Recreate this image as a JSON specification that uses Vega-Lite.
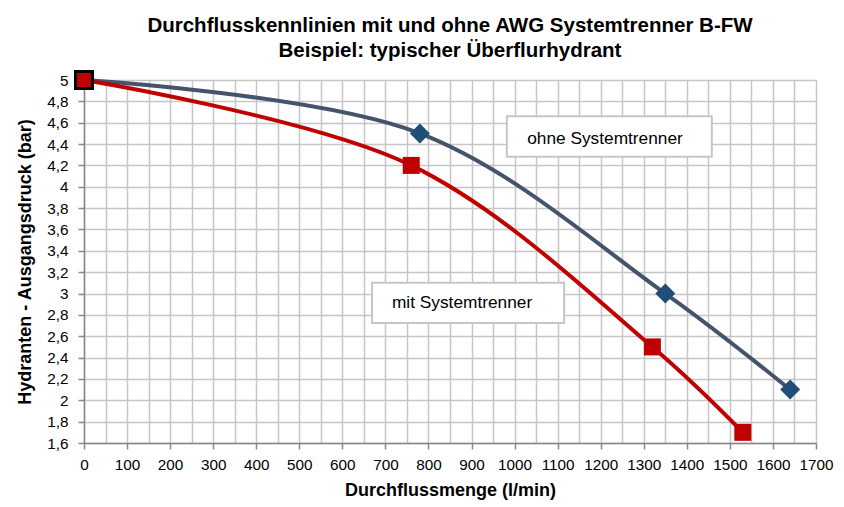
{
  "$schema": "https://vega.github.io/schema/vega-lite/v6.json",
  "width": 732,
  "height": 363,
  "autosize": "none",
  "padding": {"left": 84, "top": 80, "right": 28, "bottom": 64},
  "background": "white",
  "config": {
    "font": "Liberation Sans",
    "view": {"stroke": null}
  },
  "title": {
    "text": ["Durchflusskennlinien mit und ohne AWG Systemtrenner B-FW", "Beispiel: typischer Überflurhydrant"],
    "fontSize": 20.5,
    "fontWeight": "bold",
    "color": "black",
    "font": "Liberation Sans",
    "lineHeight": 25,
    "offset": 4
  },
  "datasets": {
    "pts": [
      {"serie": "ohne", "q": 0, "p": 5},
      {"serie": "ohne", "q": 780, "p": 4.5},
      {"serie": "ohne", "q": 1350, "p": 3},
      {"serie": "ohne", "q": 1640, "p": 2.1},
      {"serie": "mit", "q": 0, "p": 5},
      {"serie": "mit", "q": 760, "p": 4.2},
      {"serie": "mit", "q": 1320, "p": 2.5},
      {"serie": "mit", "q": 1530, "p": 1.7}
    ],
    "boxes": [
      {"label": "ohne Systemtrenner", "q1": 982, "q2": 1458, "p1": 4.28, "p2": 4.66, "q": 1210, "p": 4.45},
      {"label": "mit Systemtrenner", "q1": 669, "q2": 1115, "p1": 2.725, "p2": 3.1, "q": 878, "p": 2.91}
    ]
  },
  "encoding": {
    "x": {
      "field": "q", "type": "quantitative",
      "scale": {"domain": [0, 1700], "nice": false, "zero": false},
      "axis": {
        "title": "Durchflussmenge (l/min)",
        "titleFontSize": 18, "titleFontWeight": "bold", "titleColor": "black", "titlePadding": 9,
        "values": [0,50,100,150,200,250,300,350,400,450,500,550,600,650,700,750,800,850,900,950,1000,1050,1100,1150,1200,1250,1300,1350,1400,1450,1500,1550,1600,1650,1700],
        "labelExpr": "datum.value % 100 === 0 ? datum.label : ''",
        "format": "d",
        "labelFontSize": 15.3, "labelColor": "black", "labelPadding": 8,
        "labelFlush": false, "labelOverlap": false,
        "grid": true, "gridColor": "#C6C6C6", "gridWidth": 1.5,
        "domainColor": "#868686", "domainWidth": 1.5,
        "tickColor": "#868686", "tickWidth": 1.5, "tickSize": 6,
        "tickOpacity": {"condition": {"test": "datum.value % 100 === 0", "value": 1}, "value": 0}
      }
    },
    "y": {
      "field": "p", "type": "quantitative",
      "scale": {"domain": [1.6, 5], "nice": false, "zero": false},
      "axis": {
        "title": "Hydranten - Ausgangsdruck (bar)",
        "titleFontSize": 18, "titleFontWeight": "bold", "titleColor": "black", "titlePadding": 12,
        "values": [1.6,1.8,2,2.2,2.4,2.6,2.8,3,3.2,3.4,3.6,3.8,4,4.2,4.4,4.6,4.8,5],
        "labelExpr": "replace(toString(datum.value), '.', ',')",
        "labelFontSize": 15.3, "labelColor": "black", "labelPadding": 10,
        "labelFlush": false, "labelOverlap": false,
        "grid": true, "gridColor": "#C6C6C6", "gridWidth": 1.5,
        "domainColor": "#868686", "domainWidth": 1.5,
        "tickColor": "#868686", "tickWidth": 1.5, "tickSize": 6
      }
    }
  },
  "layer": [
    {
      "data": {"name": "pts"},
      "transform": [{"filter": "datum.serie === 'ohne'"}],
      "mark": {"type": "line", "interpolate": "catmull-rom", "color": "#44546A", "strokeWidth": 4}
    },
    {
      "data": {"name": "pts"},
      "transform": [{"filter": "datum.serie === 'ohne' && datum.q > 0"}],
      "mark": {"type": "point", "shape": "diamond", "filled": true, "color": "#1F4E79", "size": 400, "opacity": 1}
    },
    {
      "data": {"name": "pts"},
      "transform": [{"filter": "datum.serie === 'mit'"}],
      "mark": {"type": "line", "interpolate": "catmull-rom", "color": "#C00000", "strokeWidth": 4}
    },
    {
      "data": {"name": "pts"},
      "transform": [{"filter": "datum.serie === 'mit'"}],
      "mark": {"type": "point", "shape": "square", "filled": true, "fill": "#C00000", "stroke": "black", "size": 289, "opacity": 1},
      "encoding": {
        "strokeWidth": {"condition": {"test": "datum.q === 0", "value": 3}, "value": 0}
      }
    },
    {
      "data": {"name": "boxes"},
      "mark": {"type": "rect", "fill": "white", "stroke": "#C6C6C6", "strokeWidth": 2},
      "encoding": {
        "x": {"field": "q1", "type": "quantitative"},
        "x2": {"field": "q2"},
        "y": {"field": "p1", "type": "quantitative"},
        "y2": {"field": "p2"}
      }
    },
    {
      "data": {"name": "boxes"},
      "mark": {"type": "text", "fontSize": 17.3, "color": "black", "align": "center", "baseline": "middle"},
      "encoding": {
        "text": {"field": "label"}
      }
    }
  ]
}
